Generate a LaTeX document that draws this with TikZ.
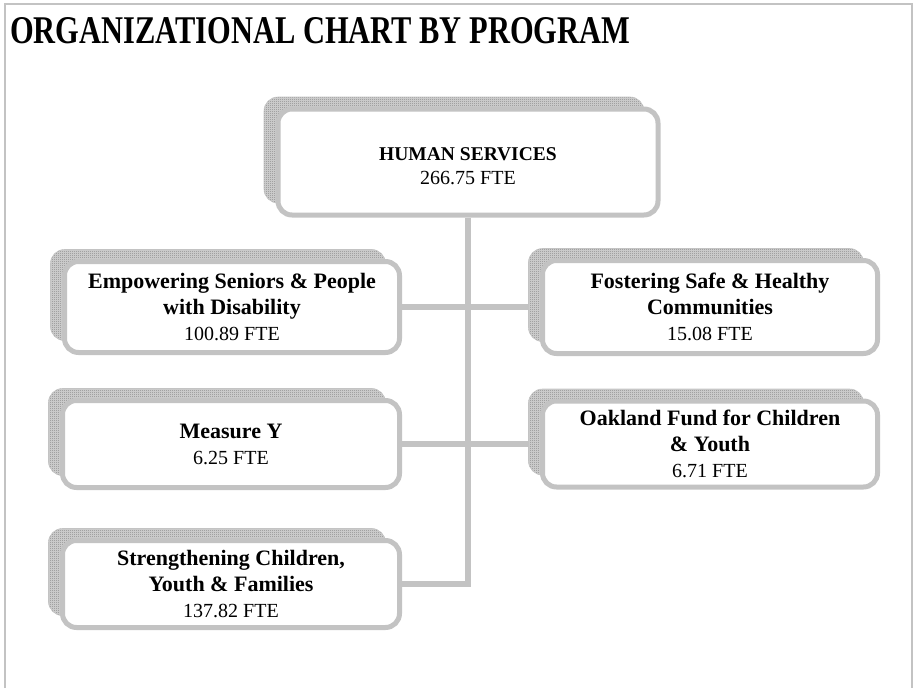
\documentclass[tikz,border=0pt]{standalone}
\usepackage{fontspec}
\usepackage{graphicx}
\setmainfont{Liberation Serif}
\usetikzlibrary{shadows,patterns,backgrounds}
\definecolor{boxgray}{RGB}{195,195,195}
\definecolor{dotgray}{RGB}{135,135,135}
\definecolor{shadowbase}{RGB}{212,212,212}
\pgfdeclarepatternformonly{checker}{\pgfpointorigin}{\pgfpoint{2pt}{2pt}}{\pgfpoint{2pt}{2pt}}{%
  \pgfpathrectangle{\pgfpointorigin}{\pgfpoint{1pt}{1pt}}%
  \pgfpathrectangle{\pgfpoint{1pt}{1pt}}{\pgfpoint{1pt}{1pt}}%
  \pgfusepath{fill}}
\begin{document}
\begin{tikzpicture}[x=1pt,y=-1pt,
  orgbox/.style={draw=boxgray, line width=5pt, rounded corners=14pt, fill=white,
    align=center, inner sep=0pt, font=\bfseries\fontsize{22}{26}\selectfont,
    general shadow={fill=shadowbase, shadow xshift=-14pt, shadow yshift=12pt},
    general shadow={pattern=checker, pattern color=dotgray, draw=boxgray,
      line width=0.6pt, shadow xshift=-14pt, shadow yshift=12pt}},
  conn/.style={draw=boxgray, line width=6pt}]
\useasboundingbox (0,0) rectangle (917,688);
% frame
\draw[boxgray, line width=2pt] (5,688) -- (5,4) -- (912,4) -- (912,688);
% title
\node[anchor=base west, inner sep=0pt] (title) at (10,43)
  {\resizebox{620pt}{26pt}{\bfseries ORGANIZATIONAL CHART BY PROGRAM}};
% boxes
\node[orgbox, minimum width=380pt, minimum height=106pt,
  font=\bfseries\fontsize{19.5}{24}\selectfont] (main) at (468,162)
  {\raisebox{-6pt}[\height][\depth]{\begin{tabular}{@{}c@{}}HUMAN SERVICES\\{\mdseries\fontsize{20}{24}\selectfont 266.75 FTE}\end{tabular}}};
\node[orgbox, minimum width=335pt, minimum height=91pt] (empow) at (232,307)
  {Empowering Seniors \& People\\with Disability\\{\mdseries\fontsize{20}{26}\selectfont 100.89 FTE}};
\node[orgbox, minimum width=335pt, minimum height=93pt] (foster) at (710,307)
  {Fostering Safe \& Healthy\\Communities\\{\mdseries\fontsize{20}{26}\selectfont 15.08 FTE}};
\node[orgbox, minimum width=337pt, minimum height=87pt] (measure) at (231,444)
  {Measure Y\\{\mdseries\fontsize{20}{25}\selectfont 6.25 FTE}};
\node[orgbox, minimum width=335pt, minimum height=86pt] (oakland) at (710,444)
  {Oakland Fund for Children\\\& Youth\\{\mdseries\fontsize{20}{25}\selectfont 6.71 FTE}};
\node[orgbox, minimum width=337pt, minimum height=87pt] (strength) at (231,584)
  {Strengthening Children,\\Youth \& Families\\{\mdseries\fontsize{20}{25}\selectfont 137.82 FTE}};
% connectors
\begin{pgfonlayer}{background}
\draw[conn] (main.south) |- (strength.east);
\draw[conn] (empow.east) -- (foster.west);
\draw[conn] (measure.east) -- (oakland.west);
\end{pgfonlayer}
\end{tikzpicture}
\end{document}
